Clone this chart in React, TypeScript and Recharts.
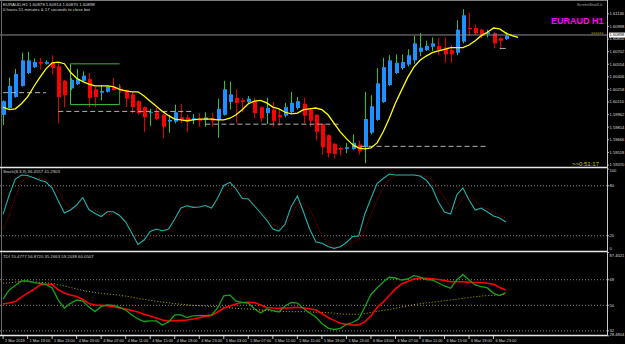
import React from 'react';
import { ComposedChart, Bar, Line, XAxis, YAxis, ReferenceLine } from 'recharts';

// EURAUD H1, first bar 1 Mar 15:00
const open = [
  1.5996, 1.6004, 1.6017, 1.6030, 1.6045, 1.6052, 1.6058, 1.6056, 1.6057, 1.6053,
  1.6036, 1.6027, 1.6032, 1.6036, 1.6038, 1.6026, 1.6022, 1.6023, 1.6029, 1.6026,
  1.6025, 1.6020, 1.6012, 1.6005, 1.5998, 1.5999, 1.5996, 1.5988, 1.5988, 1.5993,
  1.5993, 1.5990, 1.5991, 1.5990, 1.5992, 1.5990, 1.5996, 1.6011, 1.6016, 1.6013,
  1.6011, 1.6012, 1.6005, 1.5998, 1.6002, 1.5996, 1.5995, 1.5999, 1.6004, 1.6009,
  1.6002, 1.5996, 1.5985, 1.5972, 1.5962, 1.5957, 1.5956, 1.5956, 1.5961, 1.5958,
  1.5975, 1.5990, 1.6011, 1.6031, 1.6045, 1.6051, 1.6055, 1.6060, 1.6070, 1.6072,
  1.6076, 1.6077, 1.6075, 1.6072, 1.6069, 1.6082, 1.6098, 1.6098, 1.6096, 1.6091,
  1.6092, 1.6086, 1.6085,
];
const high = [
  1.6013, 1.6040, 1.6050, 1.6069, 1.6070, 1.6062, 1.6063, 1.6060, 1.6066, 1.6058,
  1.6037, 1.6039, 1.6050, 1.6047, 1.6045, 1.6029, 1.6031, 1.6031, 1.6039, 1.6030,
  1.6026, 1.6022, 1.6013, 1.6006, 1.6003, 1.6004, 1.5997, 1.5996, 1.6008, 1.6009,
  1.5996, 1.5997, 1.5998, 1.5999, 1.5998, 1.6015, 1.6036, 1.6035, 1.6026, 1.6016,
  1.6018, 1.6016, 1.6006, 1.6016, 1.6011, 1.6002, 1.6010, 1.6023, 1.6017, 1.6016,
  1.6003, 1.5997, 1.5986, 1.5973, 1.5963, 1.5958, 1.5963, 1.5973, 1.5966, 1.6023,
  1.6019, 1.6051, 1.6063, 1.6066, 1.6067, 1.6067, 1.6073, 1.6089, 1.6092, 1.6083,
  1.6087, 1.6086, 1.6087, 1.6078, 1.6107, 1.6120, 1.6116, 1.6102, 1.6097, 1.6096,
  1.6093, 1.6087, 1.6093,
];
const low = [
  1.5984, 1.6003, 1.6016, 1.6029, 1.6044, 1.6051, 1.6049, 1.6055, 1.6043, 1.5986,
  1.6005, 1.6025, 1.6031, 1.6035, 1.6005, 1.6005, 1.6013, 1.6022, 1.6024, 1.6022,
  1.6005, 1.5998, 1.5996, 1.5976, 1.5983, 1.5990, 1.5968, 1.5975, 1.5986, 1.5986,
  1.5976, 1.5985, 1.5982, 1.5982, 1.5982, 1.5969, 1.5995, 1.6002, 1.5986, 1.5999,
  1.6009, 1.5992, 1.5988, 1.5985, 1.5982, 1.5983, 1.5993, 1.5998, 1.6002, 1.5986,
  1.5982, 1.5966, 1.5949, 1.5946, 1.5945, 1.5948, 1.5951, 1.5955, 1.5949, 1.5939,
  1.5973, 1.5989, 1.6010, 1.6030, 1.6044, 1.6049, 1.6053, 1.6056, 1.6065, 1.6071,
  1.6071, 1.6066, 1.6057, 1.6057, 1.6066, 1.6080, 1.6089, 1.6090, 1.6086, 1.6087,
  1.6074, 1.6073, 1.6084,
];
const close = [
  1.6012, 1.6030, 1.6044, 1.6060, 1.6060, 1.6058, 1.6056, 1.6058, 1.6051, 1.6017,
  1.6019, 1.6037, 1.6038, 1.6042, 1.6016, 1.6017, 1.6024, 1.6029, 1.6025, 1.6024,
  1.6015, 1.6005, 1.5998, 1.5993, 1.5999, 1.5991, 1.5982, 1.5990, 1.5999, 1.5991,
  1.5988, 1.5992, 1.5989, 1.5993, 1.5989, 1.6003, 1.6026, 1.6020, 1.6010, 1.6011,
  1.6015, 1.5998, 1.5992, 1.6004, 1.5989, 1.5993, 1.6005, 1.6010, 1.6012, 1.5995,
  1.5989, 1.5976, 1.5958, 1.5951, 1.5950, 1.5955, 1.5958, 1.5963, 1.5953, 1.5991,
  1.6006, 1.6033, 1.6052, 1.6060, 1.6057, 1.6058, 1.6066, 1.6080, 1.6075, 1.6077,
  1.6080, 1.6072, 1.6067, 1.6067, 1.6096, 1.6113, 1.6097, 1.6092, 1.6090, 1.6093,
  1.6080, 1.6083, 1.6089,
];
// moving average, shifted two bars forward
const maLine = [
  1.6005, 1.6002, 1.6003, 1.6009, 1.6017, 1.6029, 1.6040, 1.6050, 1.6057, 1.6058,
  1.6056, 1.6046, 1.6039, 1.6035, 1.6032, 1.6030, 1.6030, 1.6030, 1.6029, 1.6026,
  1.6024, 1.6023, 1.6023, 1.6018, 1.6012, 1.6006, 1.6000, 1.5995, 1.5991, 1.5990,
  1.5989, 1.5990, 1.5991, 1.5991, 1.5991, 1.5990, 1.5990, 1.5992, 1.5996, 1.6002,
  1.6009, 1.6012, 1.6013, 1.6010, 1.6005, 1.6003, 1.5999, 1.5997, 1.5998, 1.6002,
  1.6003, 1.6004, 1.6002, 1.5996, 1.5986, 1.5976, 1.5968, 1.5961, 1.5957, 1.5956,
  1.5957, 1.5963, 1.5976, 1.5992, 1.6010, 1.6025, 1.6040, 1.6052, 1.6060, 1.6065,
  1.6069, 1.6071, 1.6073, 1.6075, 1.6075, 1.6075, 1.6078, 1.6083, 1.6089, 1.6093,
  1.6098, 1.6097, 1.6092, 1.6089, 1.6087,
];

const stochMain = [
  45.6, 68.9, 88.0, 92.9, 92.3, 89.5, 86.6, 84.5, 77.3, 62.0,
  47.3, 50.9, 56.9, 65.9, 51.5, 46.7, 43.1, 48.8, 48.8, 44.3,
  36.5, 23.3, 9.5, 14.9, 25.1, 28.1, 26.0, 28.1, 40.1, 53.3,
  56.0, 54.1, 54.5, 56.3, 53.3, 65.3, 80.3, 84.1, 76.1, 64.9,
  64.1, 55.7, 47.3, 38.9, 28.1, 25.7, 34.1, 55.1, 67.7, 48.5,
  28.1, 12.8, 10.9, 7.1, 4.9, 6.8, 11.9, 19.1, 19.7, 46.1,
  64.7, 82.7, 88.7, 94.1, 92.9, 92.9, 92.9, 92.9, 91.7, 86.9,
  77.3, 60.5, 48.5, 46.1, 68.9, 77.3, 62.9, 50.9, 53.3, 48.5,
  43.7, 41.3, 36.5,
];
const stochSignal = [
  28.0, 43.7, 66.5, 84.5, 90.5, 89.6, 88.4, 86.9, 83.3, 73.7,
  61.1, 53.3, 52.9, 58.1, 56.3, 50.9, 46.7, 44.9, 46.7, 44.3,
  38.9, 29.3, 17.3, 14.3, 16.1, 20.9, 25.7, 26.9, 35.3, 44.9,
  51.5, 54.8, 54.8, 54.5, 53.9, 61.7, 70.7, 76.7, 78.8, 72.5,
  65.3, 57.5, 49.7, 41.3, 34.1, 29.3, 31.7, 42.5, 58.1, 58.7,
  53.3, 36.5, 19.7, 10.7, 6.8, 5.9, 8.3, 11.9, 14.9, 26.9,
  44.9, 62.9, 77.3, 88.1, 91.7, 92.9, 92.9, 92.9, 92.9, 91.1,
  86.9, 77.3, 65.3, 53.3, 53.3, 65.3, 68.9, 62.9, 54.5, 52.1,
  48.5, 44.9, 41.3,
];

const tdiPrice = [
  54.4, 60.8, 63.9, 67.1, 67.1, 65.9, 65.5, 64.6, 62.2, 53.7,
  48.1, 51.4, 53.7, 53.0, 48.8, 45.6, 49.2, 50.2, 49.9, 48.5,
  46.7, 43.2, 40.4, 38.6, 39.0, 39.0, 36.1, 38.3, 43.2, 43.2,
  41.4, 42.5, 42.7, 42.8, 43.2, 48.1, 56.7, 57.2, 53.0, 52.1,
  51.6, 47.6, 44.6, 47.4, 46.3, 45.3, 49.5, 52.0, 51.6, 47.7,
  44.6, 41.8, 37.2, 34.0, 32.9, 33.8, 36.5, 37.9, 40.4, 48.8,
  57.6, 62.2, 66.4, 69.7, 69.2, 67.8, 68.5, 70.8, 69.8, 68.1,
  67.8, 65.7, 63.6, 62.0, 67.8, 71.7, 67.8, 64.3, 63.2, 62.2,
  58.4, 56.9, 59.0,
];
const tdiSignal = [
  50.9, 51.6, 52.7, 55.8, 58.6, 61.1, 64.3, 64.8, 64.6, 60.8,
  58.6, 57.2, 56.2, 54.1, 51.3, 50.2, 50.0, 49.7, 49.0, 48.2,
  47.3, 46.3, 45.3, 43.7, 42.5, 41.1, 39.7, 39.0, 39.2, 39.4,
  39.7, 40.4, 41.2, 42.2, 42.8, 45.3, 48.1, 49.5, 50.9, 52.0,
  52.1, 52.0, 50.2, 48.5, 48.1, 47.9, 48.1, 48.3, 48.6, 48.1,
  47.6, 46.7, 44.2, 41.4, 39.4, 37.3, 36.6, 36.1, 36.1, 38.3,
  42.5, 48.5, 52.3, 56.9, 61.5, 65.0, 66.7, 68.5, 69.0, 69.0,
  68.6, 68.1, 67.4, 66.6, 66.6, 66.6, 66.2, 66.0, 66.0, 65.5,
  64.8, 62.5, 60.8,
];
const tdiBase = [
  65.5, 65.8, 66.4, 66.6, 66.5, 66.4, 66.2, 65.8, 65.3, 64.6,
  63.6, 62.5, 61.5, 60.4, 59.7, 59.0, 58.4, 58.0, 57.6, 57.1,
  56.4, 55.7, 54.9, 54.2, 53.5, 52.8, 52.3, 51.8, 51.2, 50.7,
  50.3, 49.9, 49.7, 49.4, 49.2, 48.9, 48.6, 48.2, 47.9, 47.6,
  47.4, 47.0, 46.7, 46.3, 45.9, 45.8, 45.6, 45.5, 45.5, 45.5,
  45.4, 45.2, 45.0, 44.8, 44.4, 44.0, 43.7, 43.7, 43.7, 44.2,
  44.9, 45.7, 46.4, 47.0, 47.9, 48.8, 49.6, 50.4, 51.1, 51.7,
  52.1, 52.7, 53.3, 53.7, 54.3, 54.9, 55.5, 56.0, 56.5, 56.8,
  57.0, 57.2, 57.7,
];

const priceTicks = [
  1.5937, 1.59518, 1.59666, 1.59814, 1.59962, 1.6011, 1.60258,
  1.60406, 1.60554, 1.60702, 1.6085, 1.60998, 1.61146,
];
const bid = 1.60898;
const stochTicks = [0, 20, 80, 100];
const tdiLevels = [68, 50, 32];
const tdiTicks = [87.4021, 68, 50, 32, 28.4804];

const timeTicks = [0, 4, 8, 12, 16, 20, 24, 28, 32, 36, 40, 44, 48, 52, 56, 60, 64, 68, 72, 76, 80];
const timeLabels = [
  '1 Mar 2019', '1 Mar 19:00', '1 Mar 23:00', '4 Mar 03:00', '4 Mar 07:00', '4 Mar 11:00',
  '4 Mar 15:00', '4 Mar 19:00', '4 Mar 23:00', '5 Mar 03:00', '5 Mar 07:00', '5 Mar 11:00',
  '5 Mar 15:00', '5 Mar 19:00', '5 Mar 23:00', '6 Mar 03:00', '6 Mar 07:00', '6 Mar 11:00',
  '6 Mar 15:00', '6 Mar 19:00', '6 Mar 23:00',
];

// grey dashed levels: [from bar, to bar, price]
const levelFrom = [0, 9, 33, 57];
const levelTo = [7, 31, 55, 79];
const levelPrice = [1.6022, 1.6000, 1.5985, 1.5959];

// green range box on 1-4 Mar
const boxFrom = 11;
const boxTo = 19;
const boxTop = 1.6056;
const boxBottom = 1.6008;
const boxRightTop = 1.6032;

// small marks on the right: last-bar low marker and projected level
const lowMarkFrom = 81;
const lowMarkTo = 82;
const lowMark = 1.6074;
const projFrom = 96;
const projTo = 98;
const projLevel = 1.6092;

const SLOTS = 99;
const W = 625;
const FONT = '"Liberation Sans", "DejaVu Sans", Arial, sans-serif';

const rows = Array.from({ length: SLOTS }, (_, i) => {
  const has = i < close.length;
  return {
    i,
    range: has ? [low[i], high[i]] : null,
    o: has ? open[i] : null,
    h: has ? high[i] : null,
    l: has ? low[i] : null,
    c: has ? close[i] : null,
    ma: i < maLine.length ? maLine[i] : null,
    k: has ? stochMain[i] : null,
    d: has ? stochSignal[i] : null,
    g: has ? tdiPrice[i] : null,
    r: has ? tdiSignal[i] : null,
    b: has ? tdiBase[i] : null,
  };
});

const Candle = (props: any) => {
  const { x, y, width, height, payload } = props;
  if (!payload || payload.o == null || height == null) return <g />;
  const { o, h, l, c } = payload;
  const k = height / (h - l || 1);
  const cx = Math.round(x + width / 2);
  const up = c >= o;
  const top = y + (h - Math.max(o, c)) * k;
  const bot = y + (h - Math.min(o, c)) * k;
  return (
    <g>
      <line x1={cx + 0.5} x2={cx + 0.5} y1={y} y2={y + height} stroke={up ? '#2fc42f' : '#e00000'} />
      <rect x={cx - 1} y={top} width={4} height={Math.max(1, bot - top)} fill={up ? '#1e90ff' : '#ff0000'} />
    </g>
  );
};

const AXIS_FS = 4.1;

const PriceTick = (props: any) => {
  const { y, payload } = props;
  return (
    <g>
      <line x1={607} x2={609} y1={y} y2={y} stroke="#aaa" />
      <text x={609.5} y={y} dy={1.4} fill="#d8d8d8" fontSize={AXIS_FS} fontFamily={FONT}>
        {payload.value.toFixed(5)}
      </text>
    </g>
  );
};

const StochTick = (props: any) => {
  const { y, payload } = props;
  const v = payload.value;
  const shift = v === 100 ? 2 : v === 0 ? -3.4 : 0;
  return (
    <g>
      <line x1={607} x2={609} y1={y} y2={y} stroke="#aaa" />
      <text x={609.5} y={y + shift} dy={1.4} fill="#d8d8d8" fontSize={AXIS_FS} fontFamily={FONT}>{v}</text>
    </g>
  );
};

const TdiTick = (props: any) => {
  const { y, payload } = props;
  const v = payload.value;
  const whole = Number.isInteger(v);
  const shift = v > 80 ? 3 : v < 30 ? -1 : 0;
  return (
    <g>
      <line x1={607} x2={609} y1={y} y2={y} stroke="#aaa" />
      <text x={609.5} y={y + shift} dy={1.4} fill="#d8d8d8" fontSize={AXIS_FS} fontFamily={FONT}>
        {whole ? v : v.toFixed(4)}
      </text>
    </g>
  );
};

const TimeTick = (props: any) => {
  const { x, payload } = props;
  const n = timeTicks.indexOf(payload.value);
  return (
    <g>
      <line x1={x} x2={x} y1={84} y2={87} stroke="#bdbdbd" />
      <text x={x + 2} y={89.6} fill="#d8d8d8" fontSize={3.9} fontFamily={FONT}>{timeLabels[n]}</text>
    </g>
  );
};

const BidLabel = (props: any) => {
  const { viewBox } = props;
  const x = viewBox.x + viewBox.width;
  return (
    <g>
      <rect x={x + 2} y={viewBox.y - 2.4} width={16} height={5} fill="#ffffff" />
      <text x={x + 2.5} y={viewBox.y + 1.5} fill="#000" fontSize={AXIS_FS} fontFamily={FONT}>{bid.toFixed(5)}</text>
    </g>
  );
};

const noMargin = { top: 0, right: 0, bottom: 0, left: 0 };

export default function App() {
  return (
    <div style={{ position: 'absolute', left: 0, top: 0, width: W, height: 344, background: '#000', overflow: 'hidden', fontFamily: FONT }}>
      <div style={{ position: 'absolute', left: 0, top: 0 }}>
        <ComposedChart width={W} height={168} data={rows} margin={noMargin}>
          <XAxis dataKey="i" type="category" scale="band" hide />
          <YAxis orientation="right" width={18} type="number" domain={[1.59335, 1.61309]} allowDataOverflow
            ticks={priceTicks} interval={0} tick={PriceTick} axisLine={false} tickLine={false} />
          <ReferenceLine y={bid} stroke="#8c8c8c" label={BidLabel} />
          {levelPrice.map((p, n) => (
            <ReferenceLine key={n} segment={[{ x: levelFrom[n], y: p }, { x: levelTo[n], y: p }]}
              stroke="#b4b4b4" strokeDasharray="5 3" />
          ))}
          <ReferenceLine segment={[{ x: boxFrom, y: boxTop }, { x: boxTo, y: boxTop }]} stroke="#1f7f1f" strokeWidth={1.3} />
          <ReferenceLine segment={[{ x: boxFrom, y: boxBottom }, { x: boxTo, y: boxBottom }]} stroke="#3cc43c" />
          <ReferenceLine segment={[{ x: boxFrom, y: boxTop }, { x: boxFrom, y: boxBottom }]} stroke="#3cc43c" />
          <ReferenceLine segment={[{ x: boxTo, y: boxRightTop }, { x: boxTo, y: boxBottom }]} stroke="#2a9a2a" />
          <ReferenceLine segment={[{ x: lowMarkFrom, y: lowMark }, { x: lowMarkTo, y: lowMark }]} stroke="#b0b0b0" />
          <ReferenceLine segment={[{ x: projFrom, y: projLevel }, { x: projTo, y: projLevel }]} stroke="#e6e600" strokeDasharray="1 1" />
          <Bar dataKey="range" shape={Candle} isAnimationActive={false} />
          <Line dataKey="ma" type="linear" stroke="#ffff00" strokeWidth={1.3} dot={false} activeDot={false} isAnimationActive={false} />
        </ComposedChart>
      </div>

      <div style={{ position: 'absolute', left: 0, top: 168 }}>
        <ComposedChart width={W} height={85} data={rows} margin={noMargin}>
          <XAxis dataKey="i" type="category" scale="band" hide />
          <YAxis orientation="right" width={18} type="number" domain={[-0.7, 101.3]} allowDataOverflow
            ticks={stochTicks} interval={0} tick={StochTick} axisLine={false} tickLine={false} />
          <ReferenceLine y={80} stroke="#858585" strokeDasharray="1 2" />
          <ReferenceLine y={20} stroke="#858585" strokeDasharray="1 2" />
          <Line dataKey="d" type="linear" stroke="#a80000" strokeDasharray="1 1.5" dot={false} activeDot={false} isAnimationActive={false} />
          <Line dataKey="k" type="linear" stroke="#20b2aa" strokeWidth={1.1} dot={false} activeDot={false} isAnimationActive={false} />
        </ComposedChart>
      </div>

      <div style={{ position: 'absolute', left: 0, top: 252 }}>
        <ComposedChart width={W} height={92} data={rows} margin={noMargin}>
          <XAxis dataKey="i" type="category" scale="band" height={8} ticks={timeTicks} interval={0}
            tick={TimeTick} axisLine={false} tickLine={false} />
          <YAxis orientation="right" width={18} type="number" domain={[28.4, 87.5]} allowDataOverflow
            ticks={tdiTicks} interval={0} tick={TdiTick} axisLine={false} tickLine={false} />
          {tdiLevels.map((v) => (
            <ReferenceLine key={v} y={v} stroke="#858585" strokeDasharray="1 2" />
          ))}
          <Line dataKey="b" type="linear" stroke="#b4b400" strokeDasharray="1 2" dot={false} activeDot={false} isAnimationActive={false} />
          <Line dataKey="r" type="linear" stroke="#ff0000" strokeWidth={1.6} dot={false} activeDot={false} isAnimationActive={false} />
          <Line dataKey="g" type="linear" stroke="#17a317" strokeWidth={1.3} dot={false} activeDot={false} isAnimationActive={false} />
        </ComposedChart>
      </div>

      <svg width={W} height={344} style={{ position: 'absolute', left: 0, top: 0, pointerEvents: 'none' }}>
        <line x1={0} x2={607} y1={0.5} y2={0.5} stroke="#7a7a7a" />
        <line x1={1.5} x2={1.5} y1={0} y2={336} stroke="#6a6a6a" />
        <line x1={607.5} x2={607.5} y1={0} y2={336} stroke="#c8c8c8" />
        <line x1={0} x2={607} y1={167.5} y2={167.5} stroke="#e8e8e8" strokeWidth={1.3} />
        <line x1={0} x2={607} y1={251.5} y2={251.5} stroke="#e8e8e8" strokeWidth={1.3} />
        <line x1={0} x2={607} y1={335.5} y2={335.5} stroke="#e8e8e8" strokeWidth={1.3} />
        <text x={3} y={5.6} fill="#dcdcdc" fontSize={4.3} fontFamily={FONT}>EURAUD,H1  1.60879 1.60914 1.60870 1.60898</text>
        <text x={3} y={10.6} fill="#dcdcdc" fontSize={4.3} fontFamily={FONT}>0 hours 51 minutes &amp; 17 seconds to close bar</text>
        <text x={577} y={6.3} fill="#a8a8a8" fontSize={3.8} fontFamily={FONT}>ScreenShot3.0</text>
        <text x={551} y={24} fill="#ff00ff" fontSize={9} fontWeight="bold" fontFamily={FONT}>EURAUD H1</text>
        <text x={572} y={165.6} fill="#c8c800" fontSize={6} fontFamily={FONT}>&gt;&gt;0:51:17</text>
        <text x={3} y={173.2} fill="#cfcfcf" fontSize={4.3} fontFamily={FONT}>Stoch(8,3,3) 36.4557 41.2903</text>
        <text x={3} y={258.2} fill="#cfcfcf" fontSize={4.3} fontFamily={FONT}>TDI 70.4777 56.8720 35.2663 59.2038 60.0507</text>
      </svg>
    </div>
  );
}
